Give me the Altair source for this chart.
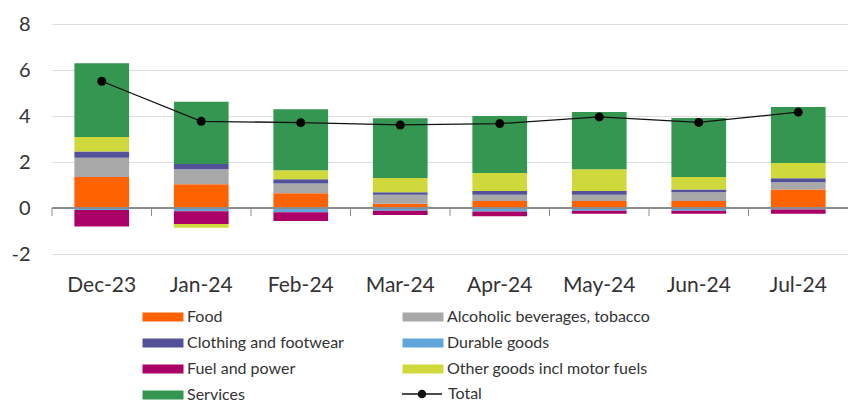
import altair as alt
import pandas as pd

months = ["Dec-23", "Jan-24", "Feb-24", "Mar-24", "Apr-24", "May-24", "Jun-24", "Jul-24"]

food = [1.35, 1.03, 0.64, 0.19, 0.30, 0.30, 0.30, 0.80]
alcohol = [0.84, 0.65, 0.43, 0.39, 0.28, 0.28, 0.38, 0.32]
clothing = [0.27, 0.23, 0.18, 0.10, 0.16, 0.16, 0.12, 0.17]
durable = [-0.09, -0.14, -0.18, -0.12, -0.15, -0.12, -0.12, -0.07]
fuel = [-0.71, -0.56, -0.39, -0.18, -0.21, -0.13, -0.13, -0.18]
other = [0.63, -0.16, 0.39, 0.62, 0.78, 0.94, 0.55, 0.67]
services = [3.20, 2.71, 2.65, 2.60, 2.48, 2.49, 2.56, 2.43]
total = [5.51, 3.77, 3.71, 3.61, 3.67, 3.96, 3.72, 4.17]

components = [
    "Food",
    "Alcoholic beverages, tobacco",
    "Clothing and footwear",
    "Durable goods",
    "Fuel and power",
    "Other goods incl motor fuels",
    "Services",
]
component_values = [food, alcohol, clothing, durable, fuel, other, services]
component_colors = ["#FF6200", "#A8A8A8", "#525199", "#60A6DA", "#AB0066", "#D0D93C", "#349651"]

rows = []
for k, (name, vals) in enumerate(zip(components, component_values)):
    for m, v in zip(months, vals):
        rows.append({"month": m, "component": name, "value": v, "idx": k})
bars_df = pd.DataFrame(rows)
total_df = pd.DataFrame({"month": months, "value": total, "series": ["Total"] * len(months)})

FONT = "Lato"
W, H = 796, 230

x_enc = alt.X(
    "month:N",
    sort=months,
    scale=alt.Scale(paddingInner=0, paddingOuter=0),
    axis=alt.Axis(
        title=None, domain=False, ticks=False, grid=False, labelAngle=0,
        labelFontSize=21, labelColor="#333333", labelFont=FONT,
        labelBaseline="alphabetic", labelPadding=37,
    ),
)
y_scale = alt.Scale(domain=[-2, 8], nice=False, zero=False)

# wide flat swatch; path is stretched beyond the unit box so the legend rows stay compact
swatch_path = "M-1.16,-0.255L1.16,-0.255L1.16,0.255L-1.16,0.255Z"

bars = alt.Chart(bars_df).mark_bar(width=alt.RelativeBandSize(0.55)).encode(
    x=x_enc,
    y=alt.Y(
        "value:Q", stack="zero", scale=y_scale,
        axis=alt.Axis(
            title=None, values=[-2, 0, 2, 4, 6, 8], domain=False, ticks=False,
            grid=True, gridColor="#dedede", gridWidth=1,
            labelExpr="'' + datum.value",
            labelFontSize=20, labelColor="#333333", labelFont=FONT, labelPadding=22,
        ),
    ),
    color=alt.Color(
        "component:N",
        sort=components,
        scale=alt.Scale(domain=components, range=component_colors),
        legend=alt.Legend(
            title=None, orient="none", legendX=93, legendY=275, columns=2,
            direction="horizontal",
            symbolType=swatch_path, symbolSize=1250,
            symbolStrokeWidth=0, labelFont=FONT, labelFontSize=16,
            labelColor="#333333", labelOffset=6, rowPadding=0, columnPadding=58,
            padding=0, labelLimit=300,
        ),
    ),
    order=alt.Order("idx:Q"),
)

zero_line = alt.Chart(total_df).mark_rule(color="#8c8c8c", strokeWidth=1).encode(
    y=alt.datum(0, scale=y_scale)
)

zero_ticks = alt.Chart(total_df).mark_rule(color="#8c8c8c", strokeWidth=1).encode(
    x=alt.X("month:N", sort=months, bandPosition=0),
    y=alt.datum(0),
    y2=alt.datum(-0.35),
)

line = alt.Chart(total_df).mark_line(strokeWidth=1.3).encode(
    x=alt.X("month:N", sort=months),
    y=alt.Y("value:Q"),
    stroke=alt.Stroke(
        "series:N",
        scale=alt.Scale(domain=["Total"], range=["#111111"]),
        legend=alt.Legend(
            title=None, orient="none", legendX=349, legendY=349,
            symbolType="M-1,0L1,0M-0.18,0a0.18,0.18 0 1,0 0.36,0a0.18,0.18 0 1,0 -0.36,0Z",
            symbolSize=1600, symbolStrokeWidth=1.3, symbolFillColor="#111111",
            labelFont=FONT, labelFontSize=16, labelColor="#333333",
            labelOffset=5, padding=0,
        ),
    ),
)

points = alt.Chart(total_df).mark_point(filled=True, size=80, opacity=1, color="#000000").encode(
    x=alt.X("month:N", sort=months),
    y=alt.Y("value:Q"),
)

chart = (
    alt.layer(bars, zero_line, zero_ticks, line, points)
    .properties(
        width=W, height=H,
        autosize=alt.AutoSizeParams(type="none"),
        padding={"left": 52, "top": 24, "right": 0, "bottom": 147},
        background="white",
    )
    .configure_view(stroke=None)
)

chart.save("out.html", embed_options={"renderer": "svg", "actions": False})
